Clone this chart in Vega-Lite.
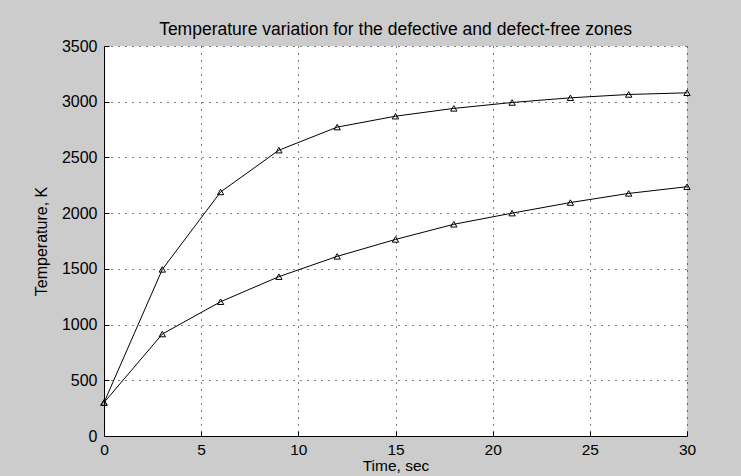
{
  "$schema": "https://vega.github.io/schema/vega-lite/v6.json",
  "width": 583,
  "height": 390,
  "autosize": {"type": "none"},
  "padding": {"left": 104, "top": 46, "right": 54, "bottom": 40},
  "background": "#cccccc",
  "title": {
    "text": "Temperature variation for the defective and defect-free zones",
    "font": "Liberation Sans",
    "fontSize": 17.5,
    "fontWeight": "normal",
    "color": "black",
    "offset": 0
  },
  "data": {
    "values": [
      {"zone": "defective", "time": 0, "temp": 300},
      {"zone": "defective", "time": 3, "temp": 1495},
      {"zone": "defective", "time": 6, "temp": 2190},
      {"zone": "defective", "time": 9, "temp": 2565},
      {"zone": "defective", "time": 12, "temp": 2772},
      {"zone": "defective", "time": 15, "temp": 2870},
      {"zone": "defective", "time": 18, "temp": 2940},
      {"zone": "defective", "time": 21, "temp": 2993},
      {"zone": "defective", "time": 24, "temp": 3035},
      {"zone": "defective", "time": 27, "temp": 3065},
      {"zone": "defective", "time": 30, "temp": 3080},
      {"zone": "defect-free", "time": 0, "temp": 300},
      {"zone": "defect-free", "time": 3, "temp": 915},
      {"zone": "defect-free", "time": 6, "temp": 1205},
      {"zone": "defect-free", "time": 9, "temp": 1430},
      {"zone": "defect-free", "time": 12, "temp": 1612},
      {"zone": "defect-free", "time": 15, "temp": 1764},
      {"zone": "defect-free", "time": 18, "temp": 1900},
      {"zone": "defect-free", "time": 21, "temp": 2000},
      {"zone": "defect-free", "time": 24, "temp": 2095},
      {"zone": "defect-free", "time": 27, "temp": 2177},
      {"zone": "defect-free", "time": 30, "temp": 2237}
    ]
  },
  "mark": {
    "type": "line",
    "color": "black",
    "strokeWidth": 1,
    "point": {"shape": "triangle-up", "filled": false, "size": 40, "stroke": "black", "strokeWidth": 1}
  },
  "encoding": {
    "x": {
      "field": "time",
      "type": "quantitative",
      "scale": {"domain": [0, 30], "nice": false},
      "axis": {"values": [0, 5, 10, 15, 20, 25, 30], "format": "d", "title": "Time, sec", "labelPadding": 11, "labelFontSize": 15.5, "titlePadding": 1, "titleFontSize": 15.5}
    },
    "y": {
      "field": "temp",
      "type": "quantitative",
      "scale": {"domain": [0, 3500], "nice": false},
      "axis": {"values": [0, 500, 1000, 1500, 2000, 2500, 3000, 3500], "format": "d", "title": "Temperature, K", "titlePadding": 12}
    },
    "detail": {"field": "zone"}
  },
  "config": {
    "view": {"fill": "white", "stroke": null},
    "axis": {
      "domainColor": "black",
      "domainWidth": 1,
      "tickColor": "black",
      "tickSize": -5,
      "labelPadding": 12,
      "labelFlush": false,
      "gridColor": "black",
      "gridDash": [1, 6],
      "gridOpacity": 1,
      "labelFont": "Liberation Sans",
      "labelFontSize": 16,
      "labelColor": "black",
      "titleFont": "Liberation Sans",
      "titleFontSize": 16,
      "titleFontWeight": "normal",
      "titleColor": "black"
    }
  }
}
